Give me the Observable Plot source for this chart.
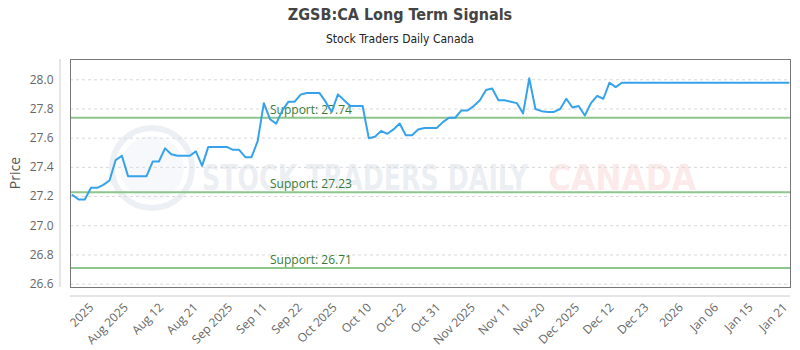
<!DOCTYPE html>
<html>
<head>
<meta charset="utf-8">
<script src="https://cdn.jsdelivr.net/npm/d3@7"></script>
<script src="https://cdn.jsdelivr.net/npm/@observablehq/plot@0.6"></script>
<style>
  html, body { margin: 0; padding: 0; background: #fff; }
  #wrap { position: relative; width: 800px; height: 350px; overflow: hidden; }
  #head { position: absolute; left: 0; top: 0; width: 800px; height: 50px; text-align: center; }
  #title { position: absolute; left: 0; width: 800px; top: 5px; font-family: "DejaVu Sans Condensed", "Liberation Sans Narrow", sans-serif; font-stretch: condensed; font-weight: bold; font-size: 16px; color: #444; }
  #subtitle { position: absolute; left: 0; width: 800px; top: 32px; font-family: "DejaVu Sans Condensed", "Liberation Sans Narrow", sans-serif; font-stretch: condensed; font-size: 12px; color: #222; }
  #wm { position: absolute; left: 0; top: 0; width: 800px; height: 350px; z-index: 0; pointer-events: none; }
  #chart { position: absolute; left: 0; top: 50px; z-index: 1; }
</style>
</head>
<body>
<div id="wrap">
  <div id="head">
    <div id="title">ZGSB:CA Long Term Signals</div>
    <div id="subtitle">Stock Traders Daily Canada</div>
  </div>
  <svg id="wm" width="800" height="350">
    <circle cx="152" cy="168" r="40" fill="none" stroke="#c8d3e3" stroke-opacity="0.35" stroke-width="6"></circle>
    <circle cx="152" cy="168" r="32" fill="#dbe3ee" fill-opacity="0.25"></circle>
    <g id="wm1" data-x="202" data-w="326"><text x="0" y="0" font-family="'DejaVu Sans Condensed', sans-serif" font-weight="bold" font-size="36" fill="#b9c3d3" fill-opacity="0.28">STOCK TRADERS DAILY</text></g>
    <g id="wm2" data-x="548" data-w="148"><text x="0" y="0" font-family="'DejaVu Sans Condensed', sans-serif" font-weight="bold" font-size="36" fill="#f08a8a" fill-opacity="0.2">CANADA</text></g>
  </svg>
  <div id="chart"></div>
</div>
<script>
// ---- data ----
const prices = [
  27.21, 27.18, 27.18, 27.26, 27.26, 27.28, 27.31, 27.45, 27.48, 27.34,
  27.34, 27.34, 27.34, 27.44, 27.44, 27.53, 27.49, 27.48, 27.48, 27.48,
  27.51, 27.41, 27.54, 27.54, 27.54, 27.54, 27.52, 27.52, 27.47, 27.47,
  27.58, 27.84, 27.73, 27.70, 27.79, 27.85, 27.85, 27.90, 27.91, 27.91,
  27.91, 27.85, 27.78, 27.90, 27.86, 27.82, 27.82, 27.82, 27.60, 27.61,
  27.65, 27.63, 27.66, 27.70, 27.62, 27.62, 27.66, 27.67, 27.67, 27.67,
  27.71, 27.74, 27.74, 27.79, 27.79, 27.82, 27.86, 27.93, 27.94, 27.86,
  27.86, 27.85, 27.84, 27.77, 28.01, 27.80, 27.785, 27.78, 27.78, 27.80,
  27.87, 27.81, 27.82, 27.755, 27.84, 27.89, 27.87, 27.98, 27.95, 27.98,
  27.98, 27.98, 27.98, 27.98, 27.98, 27.98, 27.98, 27.98, 27.98, 27.98,
  27.98, 27.98, 27.98, 27.98, 27.98, 27.98, 27.98, 27.98, 27.98, 27.98,
  27.98, 27.98, 27.98, 27.98, 27.98, 27.98, 27.98
];
const supportLevels = [27.74, 27.23, 26.71];
const supportLabels = ["Support: 27.74", "Support: 27.23", "Support: 26.71"];
const supportLabelAt = 32; // index where the labels start
const xTickLabels = ["2025", "Aug 2025", "Aug 12", "Aug 21", "Sep 2025", "Sep 11", "Sep 22", "Oct 2025", "Oct 10", "Oct 22", "Oct 31", "Nov 2025", "Nov 11", "Nov 20", "Dec 2025", "Dec 12", "Dec 23", "2026", "Jan 06", "Jan 15", "Jan 21"];
const xTickPos = [3.1, 8.7, 14.4, 20.0, 25.6, 31.2, 36.9, 42.5, 48.1, 53.7, 59.3, 64.9, 70.6, 76.2, 81.8, 87.4, 93.0, 98.6, 104.3, 109.9, 115.5];
const yTicks = [26.6, 26.8, 27.0, 27.2, 27.4, 27.6, 27.8, 28.0];

// fit the watermark words to their widths
for (const id of ["wm1", "wm2"]) {
  const g = document.getElementById(id);
  const t = g.querySelector("text");
  const natural = t.getComputedTextLength();
  const sx = (+g.dataset.w) / natural;
  g.setAttribute("transform", `translate(${g.dataset.x},190) scale(${sx},1)`);
}

const series = prices.map((v, i) => ({i, v}));
const supports = supportLevels.map((v, k) => ({v, label: supportLabels[k], i: supportLabelAt}));
const tickLabelOf = new Map(xTickPos.map((p, k) => [p, xTickLabels[k]]));

const font = "'Open Sans', 'Noto Sans', sans-serif";
const W = 800, H = 300, mL = 70, mR = 10, mT = 9, mB = 63;

const chart = Plot.plot({
  width: W, height: H,
  marginLeft: mL, marginRight: mR, marginTop: mT, marginBottom: mB,
  style: {fontFamily: font, fontSize: "12px", color: "#666", background: "transparent", overflow: "visible"},
  x: {type: "linear", domain: [-0.32, 116.32]},
  y: {domain: [26.577, 28.139]},
  marks: [
    Plot.gridY(yTicks, {stroke: "#d9d9d9", strokeOpacity: 1, strokeDasharray: "3,3"}),
    Plot.ruleY(supports, {y: "v", stroke: "#8cc68c", strokeWidth: 2}),
    Plot.text(supports, {x: "i", y: "v", text: "label", textAnchor: "start", dy: -8, fill: "#3a7a3a", fontSize: 12}),
    Plot.line(series, {x: "i", y: "v", stroke: "#36a2eb", strokeWidth: 2, curve: "linear"}),
    Plot.frame({stroke: "#777", strokeWidth: 1}),
    Plot.axisY(yTicks, {tickSize: 0, tickPadding: 17, label: null, fill: "#666", fontSize: 12}),
    Plot.axisX(xTickPos, {tickSize: 0, tickPadding: 18, tickRotate: -45, tickFormat: d => tickLabelOf.get(d), label: null, fill: "#666", fontSize: 12})
  ]
});

document.getElementById("chart").appendChild(chart);

// decorative offset axis lines and y title, positioned from the chart's own scales
const svg = d3.select(chart);
const ys = chart.scale("y").range;
svg.append("line")
  .attr("x1", mL - 10).attr("x2", mL - 10)
  .attr("y1", Math.min(...ys)).attr("y2", Math.max(...ys))
  .attr("stroke", "#ccc").attr("stroke-width", 1);
svg.append("line")
  .attr("x1", mL).attr("x2", W - mR)
  .attr("y1", Math.max(...ys) + 9).attr("y2", Math.max(...ys) + 9)
  .attr("stroke", "#ccc").attr("stroke-width", 1);
svg.append("text")
  .attr("transform", `translate(16,${(ys[0] + ys[1]) / 2}) rotate(-90)`)
  .attr("text-anchor", "middle")
  .attr("dominant-baseline", "middle")
  .attr("font-family", font)
  .attr("font-size", 14)
  .attr("fill", "#555")
  .text("Price");
</script>
</body>
</html>
